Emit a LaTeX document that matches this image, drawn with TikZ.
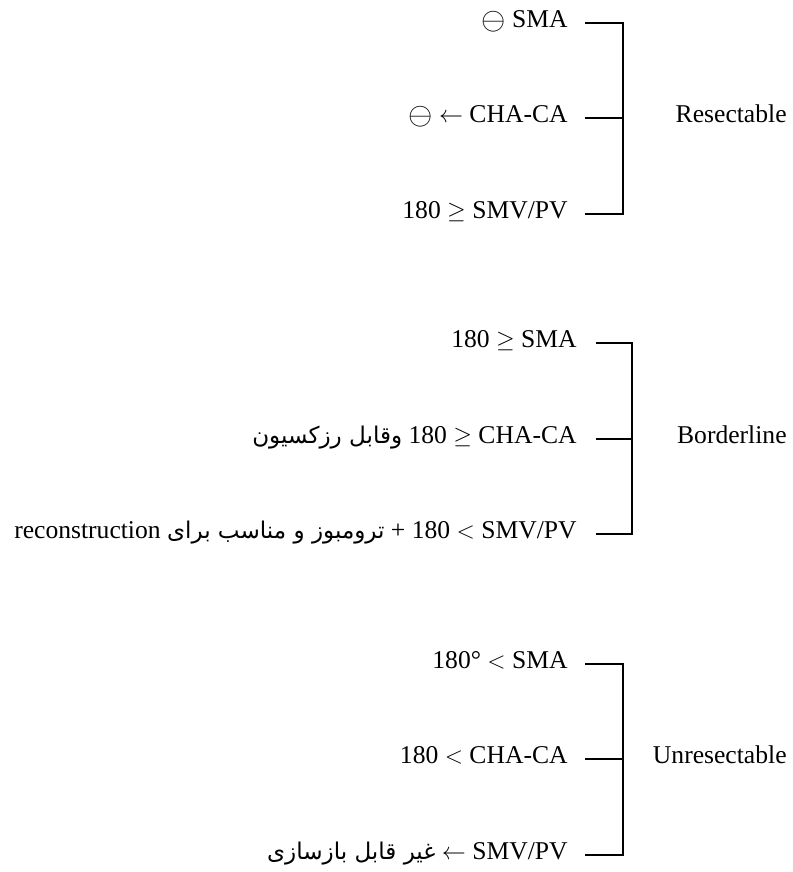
\documentclass[tikz,border=0pt]{standalone}
\usepackage{fontspec}
\usepackage{graphicx}
\setmainfont{Liberation Serif}
\newfontfamily\fafont[Script=Arabic,Scale=0.9]{DejaVu Sans}
\TeXXeTstate=1
\usetikzlibrary{positioning}
\tikzset{
  crit/.style ={anchor=mid east,inner sep=0pt,font=\fontsize{12.8}{15}\selectfont},
  grp/.style  ={anchor=mid east,inner sep=0pt,font=\fontsize{12.8}{15}\selectfont},
  brk/.style  ={line width=1pt},
}
\newcommand{\fa}[1]{{\fafont\beginR #1\endR}}
\newcommand{\om}{\raisebox{-0.17ex}{\scalebox{1.3}{$\ominus$}}}

\begin{document}
\begin{tikzpicture}[x=0.5pt,y=-0.5pt]
  \useasboundingbox (0,0) rectangle (792,872);
  \node[crit] (r1) at (568,23)  {\om\ SMA};
  \node[crit] (r2) at (568,118) {\om\ $\leftarrow$ CHA-CA};
  \node[crit] (r3) at (568,214) {180 $\geq$ SMV/PV};
  \node[grp]  (res) at (787,118) {Resectable};
  \draw[brk] ([xshift=8.5pt]r1.mid east) -- ++(19pt,0) |- ([xshift=8.5pt]r3.mid east);
  \draw[brk] ([xshift=8.5pt]r2.mid east) -- ++(19pt,0);
  \node[crit] (b1) at (577,343) {180 $\geq$ SMA};
  \node[crit] (b2) at (577,439) {\fa{وقابل رزکسیون} 180 $\geq$ CHA-CA};
  \node[crit] (b3) at (577,534) {reconstruction \fa{ترومبوز و مناسب برای} + 180 $<$ SMV/PV};
  \node[grp]  (bord) at (787,439) {Borderline};
  \draw[brk] ([xshift=9.5pt]b1.mid east) -- ++(18pt,0) |- ([xshift=9.5pt]b3.mid east);
  \draw[brk] ([xshift=9.5pt]b2.mid east) -- ++(18pt,0);
  \node[crit] (u1) at (568,664) {180° $<$ SMA};
  \node[crit] (u2) at (568,759) {180 $<$ CHA-CA};
  \node[crit] (u3) at (568,855) {\fa{غیر قابل بازسازی} $\leftarrow$ SMV/PV};
  \node[grp]  (unres) at (787,759) {Unresectable};
  \draw[brk] ([xshift=8.5pt]u1.mid east) -- ++(19pt,0) |- ([xshift=8.5pt]u3.mid east);
  \draw[brk] ([xshift=8.5pt]u2.mid east) -- ++(19pt,0);
\end{tikzpicture}
\end{document}
